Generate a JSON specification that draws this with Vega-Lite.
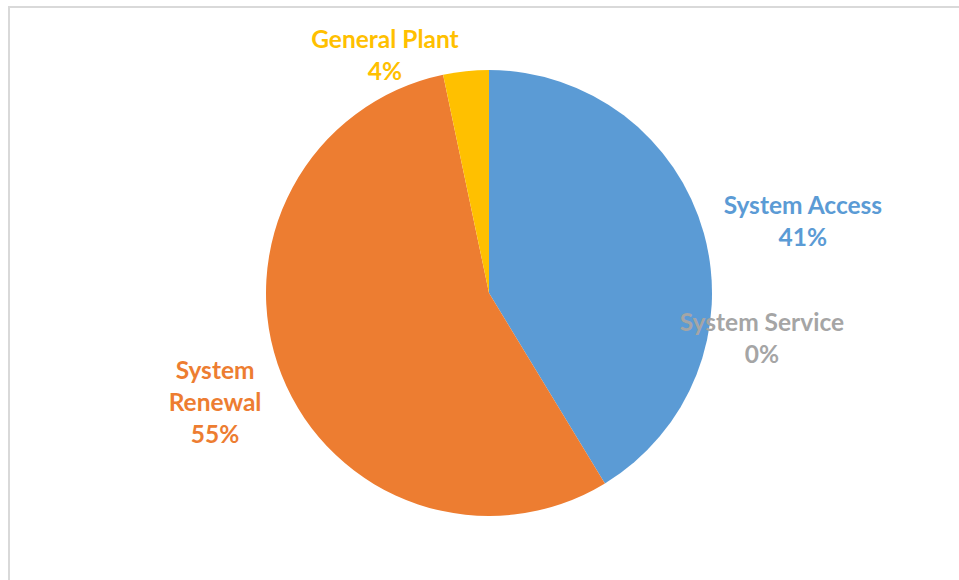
{
  "$schema": "https://vega.github.io/schema/vega-lite/v6.json",
  "width": 960,
  "height": 590,
  "autosize": {"type": "none"},
  "padding": {"left": 9, "top": 7, "right": 0, "bottom": 0},
  "background": "white",
  "view": {"stroke": "#D9D9D9", "strokeWidth": 2, "fill": "white"},
  "config": {"view": {"stroke": "#D9D9D9", "strokeWidth": 2}},
  "data": {
    "values": [
      {"category": "System Access", "value": 41.3, "order": 1, "label": "System Access\n41%"},
      {"category": "System Service", "value": 0, "order": 2, "label": "System Service\n0%"},
      {"category": "System Renewal", "value": 55.4, "order": 3, "label": "System\nRenewal\n55%"},
      {"category": "General Plant", "value": 3.3, "order": 4, "label": "General Plant\n4%"}
    ]
  },
  "encoding": {
    "theta": {"field": "value", "type": "quantitative", "stack": true},
    "order": {"field": "order", "type": "quantitative"},
    "color": {
      "field": "category",
      "type": "nominal",
      "scale": {
        "domain": ["System Access", "System Service", "System Renewal", "General Plant"],
        "range": ["#5B9BD5", "#A5A5A5", "#ED7D31", "#FFC000"]
      },
      "legend": null
    }
  },
  "layer": [
    {"mark": {"type": "arc", "outerRadius": 223, "yOffset": -9}},
    {
      "mark": {"type": "text", "radius": 300, "dx": 25, "dy": -5, "yOffset": -9, "font": "Lato", "fontWeight": "bold", "fontSize": 24.5, "lineHeight": 32, "lineBreak": "\n", "align": "center", "baseline": "middle"},
      "encoding": {"text": {"condition": {"test": "datum.category === 'System Access'", "field": "label"}, "value": ""}}
    },
    {
      "mark": {"type": "text", "radius": 300, "dx": 117, "dy": -225, "yOffset": -9, "font": "Lato", "fontWeight": "bold", "fontSize": 24.5, "lineHeight": 32, "lineBreak": "\n", "align": "center", "baseline": "middle"},
      "encoding": {"text": {"condition": {"test": "datum.category === 'System Service'", "field": "label"}, "value": ""}}
    },
    {
      "mark": {"type": "text", "radius": 300, "dx": 5, "dy": -31, "yOffset": -9, "font": "Lato", "fontWeight": "bold", "fontSize": 24.5, "lineHeight": 32, "lineBreak": "\n", "align": "center", "baseline": "middle"},
      "encoding": {"text": {"condition": {"test": "datum.category === 'System Renewal'", "field": "label"}, "value": ""}}
    },
    {
      "mark": {"type": "text", "radius": 300, "dx": -73, "dy": 46, "yOffset": -9, "font": "Lato", "fontWeight": "bold", "fontSize": 24.5, "lineHeight": 32, "lineBreak": "\n", "align": "center", "baseline": "middle"},
      "encoding": {"text": {"condition": {"test": "datum.category === 'General Plant'", "field": "label"}, "value": ""}}
    }
  ]
}
